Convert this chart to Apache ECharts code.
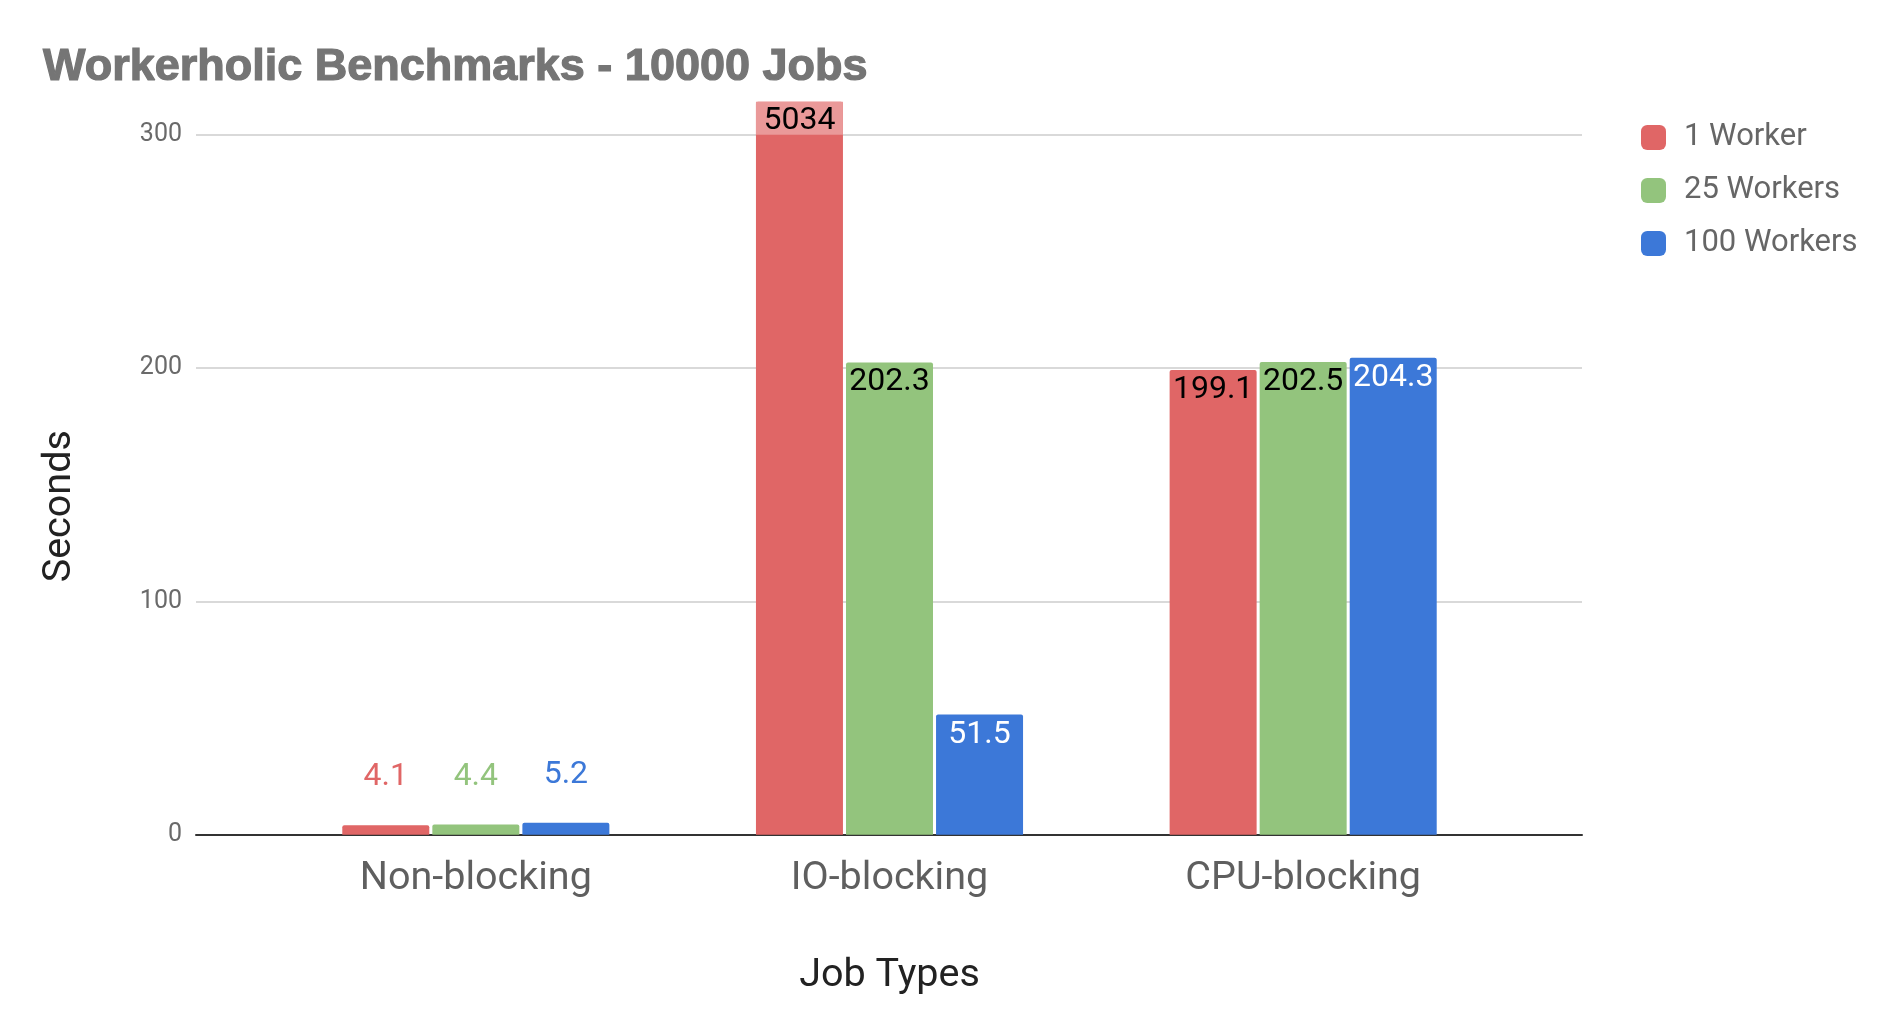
<!DOCTYPE html>
<html>
<head>
<meta charset="utf-8">
<script src="https://cdn.jsdelivr.net/npm/echarts@6/dist/echarts.min.js"></script>
<style>
html,body{margin:0;padding:0;background:#fff;}
#chart{width:1882px;height:1018px;}
</style>
</head>
<body>
<div id="chart"></div>
<script>
const titleText = 'Workerholic Benchmarks - 10000 Jobs';
const categories = ['Non-blocking', 'IO-blocking', 'CPU-blocking'];
const seriesNames = ['1 Worker', '25 Workers', '100 Workers'];
const oneWorker = [4.1, 5034, 199.1];
const twentyFiveWorkers = [4.4, 202.3, 202.5];
const hundredWorkers = [5.2, 51.5, 204.3];
const yTicks = [0, 100, 200, 300];
const yMax = 314;

const colors = ['#e06666', '#93c47d', '#3c78d8'];
const insideLabelColors = ['#000', '#000', '#fff'];
const FONT = 'Roboto, "Noto Sans", sans-serif';

function buildData(values, si) {
  return values.map((v, ci) => {
    if (ci === 0) {
      return { value: v, label: { position: 'top', distance: 32, color: colors[si] } };
    }
    const item = { value: v, label: { position: 'insideTop', distance: 4, color: insideLabelColors[si] } };
    if (v > yMax) {
      item.label = {
        position: 'insideTop', distance: 0, color: '#000',
        backgroundColor: '#ea9999', width: 87, height: 27, lineHeight: 27, align: 'center', padding: [6, 0, 0, 0]
      };
    }
    return item;
  });
}

const allValues = [oneWorker, twentyFiveWorkers, hundredWorkers];

const chart = echarts.init(document.getElementById('chart'), null, { renderer: 'canvas' });
chart.setOption({
  backgroundColor: '#fff',
  animation: false,
  color: colors,
  title: {
    text: titleText, left: 38, top: 40,
    textStyle: { fontFamily: '"Liberation Sans", Arial, sans-serif', fontWeight: 'bold', fontSize: 45, color: '#757575',
      textBorderColor: '#757575', textBorderWidth: 1.2 }
  },
  legend: {
    orient: 'vertical', left: 1636, top: 117,
    itemWidth: 25, itemHeight: 25, itemGap: 22, icon: 'roundRect',
    data: seriesNames,
    textStyle: { fontFamily: FONT, fontSize: 31, color: '#666', lineHeight: 25, padding: [0, 0, 0, 13] }
  },
  grid: [
    { left: 196, right: 300, top: 101.7, bottom: 183.2 },
    { left: 269, right: 372, top: 101.7, bottom: 183.2 }
  ],
  xAxis: [
    { type: 'value', gridIndex: 0, min: 0, max: 1,
      axisLine: { show: true, lineStyle: { color: '#333', width: 2 } },
      axisTick: { show: false }, axisLabel: { show: false }, splitLine: { show: false } },
    { type: 'category', gridIndex: 1, data: categories,
      name: 'Job Types', nameLocation: 'middle', nameGap: 121,
      nameTextStyle: { fontFamily: FONT, fontSize: 39.5, color: '#222' },
      axisLine: { show: false }, axisTick: { show: false },
      axisLabel: { margin: 24, fontFamily: FONT, fontSize: 39.5, color: '#5f5f5f' } }
  ],
  yAxis: [
    { type: 'value', gridIndex: 0, min: 0, max: yMax, interval: 100,
      name: 'Seconds', nameLocation: 'middle', nameGap: 116, nameRotate: 90,
      nameTextStyle: { fontFamily: FONT, fontSize: 39.5, color: '#222', padding: [0, 76, 0, 0] },
      axisLine: { show: false }, axisTick: { show: false },
      axisLabel: { margin: 14, fontFamily: FONT, fontSize: 25, color: '#6a6a6a', showMaxLabel: false,
        formatter: v => (yTicks.indexOf(v) >= 0 ? String(v) : '') },
      splitLine: { show: true, lineStyle: { color: ['#cccccc', '#cccccc', '#cccccc', '#cccccc', 'rgba(0,0,0,0)'], width: 1.5 } } },
    { type: 'value', gridIndex: 1, min: 0, max: yMax, show: false, splitLine: { show: false } }
  ],
  series: seriesNames.map((name, si) => ({
    name: name, type: 'bar', xAxisIndex: 1, yAxisIndex: 1,
    barWidth: 87, barGap: '3.5%', clip: true,
    itemStyle: { color: colors[si], borderRadius: [2, 2, 0, 0] },
    label: { show: true, fontFamily: FONT, fontSize: 32, formatter: '{c}' },
    data: buildData(allValues[si], si)
  }))
});
</script>
</body>
</html>
